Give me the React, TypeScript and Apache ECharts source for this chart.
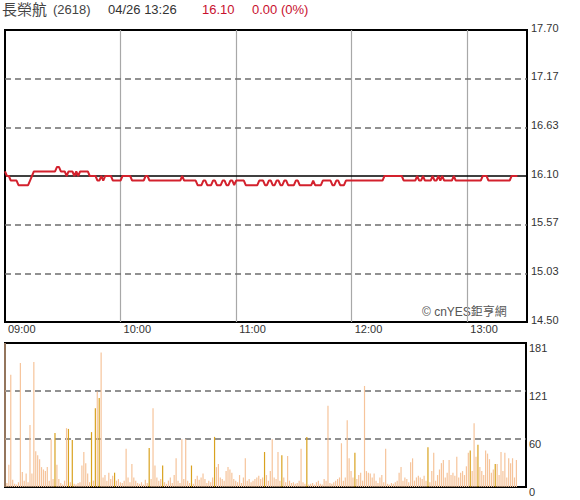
import React, { useEffect, useRef } from "react";
import * as echarts from "echarts";

// ---- data ----
const stockName = "長榮航";
const stockCode = "(2618)";
const quoteTime = "04/26 13:26";
const lastPrice = "16.10";
const change = "0.00 (0%)";
const prevClose = 16.1;
const priceMin = 14.5;
const priceMax = 17.7;
const volMax = 181;
const timeLabels = ["09:00", "10:00", "11:00", "12:00", "13:00"];
const sessionMinutes = 271;

// one value per minute from 09:00
const prices = [
  16.15, 16.1, 16.1, 16.05, 16.05, 16.05, 16.05, 16.0, 16.0, 16.0,
  16.0, 16.0, 16.0, 16.05, 16.1, 16.15, 16.15, 16.15, 16.15, 16.15,
  16.15, 16.15, 16.15, 16.15, 16.15, 16.15, 16.15, 16.2, 16.2, 16.15,
  16.15, 16.15, 16.1, 16.15, 16.15, 16.15, 16.1, 16.15, 16.1, 16.15,
  16.15, 16.15, 16.15, 16.15, 16.1, 16.1, 16.1, 16.1, 16.05, 16.05,
  16.1, 16.05, 16.1, 16.1, 16.1, 16.1, 16.05, 16.05, 16.05, 16.05,
  16.05, 16.1, 16.1, 16.1, 16.1, 16.1, 16.05, 16.05, 16.05, 16.05,
  16.05, 16.05, 16.05, 16.1, 16.1, 16.05, 16.05, 16.05, 16.05, 16.05,
  16.05, 16.05, 16.05, 16.05, 16.05, 16.05, 16.05, 16.05, 16.05, 16.05,
  16.05, 16.05, 16.1, 16.05, 16.05, 16.05, 16.05, 16.05, 16.05, 16.05,
  16.0, 16.0, 16.0, 16.05, 16.05, 16.0, 16.0, 16.0, 16.05, 16.05,
  16.0, 16.0, 16.0, 16.05, 16.05, 16.0, 16.0, 16.05, 16.05, 16.0,
  16.05, 16.05, 16.05, 16.05, 16.05, 16.0, 16.0, 16.0, 16.0, 16.0,
  16.0, 16.0, 16.05, 16.05, 16.05, 16.0, 16.0, 16.05, 16.05, 16.0,
  16.0, 16.05, 16.05, 16.0, 16.0, 16.05, 16.05, 16.0, 16.0, 16.0,
  16.0, 16.05, 16.05, 16.0, 16.0, 16.0, 16.0, 16.0, 16.0, 16.0,
  16.05, 16.0, 16.0, 16.0, 16.0, 16.05, 16.05, 16.05, 16.05, 16.05,
  16.0, 16.0, 16.05, 16.05, 16.0, 16.0, 16.0, 16.05, 16.05, 16.05,
  16.05, 16.05, 16.05, 16.05, 16.05, 16.05, 16.05, 16.05, 16.05, 16.05,
  16.05, 16.05, 16.05, 16.05, 16.05, 16.05, 16.05, 16.1, 16.1, 16.1,
  16.1, 16.1, 16.1, 16.1, 16.1, 16.1, 16.1, 16.05, 16.05, 16.05,
  16.05, 16.05, 16.05, 16.05, 16.1, 16.05, 16.05, 16.1, 16.05, 16.05,
  16.05, 16.05, 16.1, 16.05, 16.05, 16.1, 16.05, 16.1, 16.05, 16.05,
  16.05, 16.05, 16.05, 16.1, 16.05, 16.05, 16.05, 16.05, 16.05, 16.05,
  16.05, 16.05, 16.05, 16.05, 16.05, 16.05, 16.05, 16.05, 16.1, 16.1,
  16.1, 16.05, 16.05, 16.05, 16.05, 16.05, 16.05, 16.05, 16.05, 16.05,
  16.05, 16.05, 16.05, 16.1, 16.1, 16.1, 16.1,
];

const volumes = [
  181, 5, 28, 141, 9, 4, 3, 6, 156, 19,
  8, 17, 6, 78, 17, 157, 45, 40, 35, 25,
  22, 20, 25, 8, 60, 10, 68, 28, 10, 5,
  3, 8, 74, 73, 6, 59, 4, 3, 5, 6,
  27, 44, 30, 17, 6, 69, 8, 99, 120, 112,
  169, 12, 15, 8, 18, 10, 14, 18, 8, 10,
  6, 5, 8, 48, 12, 6, 29, 12, 8, 5,
  4, 6, 3, 9, 5, 49, 10, 99, 27, 12,
  8, 10, 27, 6, 4, 8, 12, 5, 15, 36,
  8, 5, 60, 10, 60, 8, 5, 27, 4, 10,
  14, 9, 12, 17, 10, 5, 8, 6, 12, 63,
  25, 29, 12, 10, 8, 20, 25, 22, 18, 10,
  8, 6, 15, 5, 12, 36, 8, 10, 6, 8,
  10, 12, 14, 10, 12, 44, 15, 8, 20, 60,
  12, 10, 44, 8, 40, 12, 6, 39, 8, 5,
  6, 4, 5, 8, 48, 6, 4, 63, 3, 4,
  5, 3, 6, 8, 4, 3, 10, 8, 102, 5,
  4, 6, 8, 10, 12, 55, 8, 12, 84, 36,
  20, 12, 43, 10, 15, 18, 8, 127, 20, 18,
  17, 12, 17, 8, 5, 12, 15, 6, 48, 4,
  3, 5, 4, 6, 8, 18, 25, 8, 12, 10,
  6, 31, 36, 8, 12, 14, 12, 10, 14, 8,
  50, 6, 20, 43, 8, 15, 22, 30, 34, 12,
  18, 34, 15, 18, 14, 38, 12, 18, 20, 15,
  26, 43, 46, 20, 80, 38, 53, 25, 20, 15,
  46, 42, 35, 18, 22, 29, 29, 15, 44, 20,
  43, 12, 36, 30, 36, 12, 34,
];

// minutes whose volume bar is drawn in the darker colour
const darkVolumeMinutes = [
  26, 33, 35, 45, 47, 49, 57, 75, 82, 97, 109, 135, 144, 157, 182, 220, 242, 246, 255,
];

const FONT = 'Arial, "Liberation Sans", "Noto Sans CJK TC", sans-serif';

export default function App() {
  const ref = useRef<HTMLDivElement>(null);

  useEffect(() => {
    if (!ref.current) return;
    const chart = echarts.init(ref.current, undefined, { renderer: "svg" });

    const priceStep = (priceMax - priceMin) / 6;
    const priceTicks = Array.from({ length: 7 }, (_, i) => priceMin + i * priceStep);
    const volTicks = [0, volMax / 3, (2 * volMax) / 3, volMax];
    const hourTicks = timeLabels.map((_, i) => i * 60);

    const priceLines = priceTicks
      .filter((_, i) => i > 0 && i < 6)
      .map((v) =>
        Math.abs(v - prevClose) < 1e-6
          ? { yAxis: v, lineStyle: { color: "#000", width: 1.6, type: "solid" } }
          : { yAxis: v, lineStyle: { color: "#6e6e6e", width: 1.6, type: [6, 4] } }
      );
    const hourLines = hourTicks
      .filter((v) => v > 0)
      .map((v) => ({ xAxis: v, lineStyle: { color: "#a8a8a8", width: 1.2, type: "solid" } }));
    const volLines = volTicks
      .filter((_, i) => i > 0 && i < 3)
      .map((v) => ({ yAxis: v, lineStyle: { color: "#6e6e6e", width: 1.6, type: [6, 4] } }));

    const darkSet = new Set(darkVolumeMinutes);

    chart.setOption({
      animation: false,
      textStyle: { fontFamily: FONT },
      grid: [
        { left: 5, top: 30, width: 522, height: 292, show: true, borderColor: "#000", borderWidth: 2, backgroundColor: "transparent" },
        { left: 5, top: 343, width: 521, height: 144, show: true, borderColor: "#000", borderWidth: 2, backgroundColor: "transparent" },
      ],
      xAxis: [
        {
          type: "value",
          gridIndex: 0,
          min: 0,
          max: sessionMinutes,
          interval: 60,
          axisLine: { show: false },
          axisTick: { show: false },
          splitLine: { show: false },
          axisLabel: {
            customValues: hourTicks,
            formatter: (v: number) => timeLabels[Math.round(v / 60)] ?? "",
            align: "left",
            padding: [0, 0, 0, 3],
            margin: 1,
            color: "#333",
            fontSize: 11,
            fontFamily: FONT,
          },
        },
        {
          type: "value",
          gridIndex: 1,
          min: 0,
          max: sessionMinutes,
          interval: 60,
          axisLine: { show: false },
          axisTick: { show: false },
          splitLine: { show: false },
          axisLabel: { show: false },
        },
      ],
      yAxis: [
        {
          type: "value",
          gridIndex: 0,
          position: "right",
          min: priceMin,
          max: priceMax,
          axisLine: { show: false },
          axisTick: { show: false, customValues: priceTicks },
          splitLine: { show: false },
          axisLabel: {
            customValues: priceTicks,
            formatter: (v: number) => v.toFixed(2),
            margin: 4,
            color: "#333",
            fontSize: 11,
            fontFamily: FONT,
            verticalAlign: "bottom",
            lineHeight: 5,
          },
        },
        {
          type: "value",
          gridIndex: 1,
          position: "right",
          min: 0,
          max: volMax,
          axisLine: { show: false },
          axisTick: { show: false, customValues: volTicks },
          splitLine: { show: false },
          axisLabel: {
            customValues: volTicks,
            formatter: (v: number) => String(Math.round(v)),
            margin: 3,
            color: "#333",
            fontSize: 11,
            fontFamily: FONT,
            verticalAlign: "top",
            lineHeight: 10,
          },
        },
      ],
      series: [
        {
          type: "line",
          xAxisIndex: 0,
          yAxisIndex: 0,
          z: 3,
          showSymbol: false,
          lineStyle: { color: "#d3212d", width: 2 },
          data: prices.map((p, i) => [i, p]),
          markLine: {
            z: 1,
            silent: true,
            symbol: "none",
            label: { show: false },
            emphasis: { disabled: true },
            data: [...hourLines, ...priceLines],
          },
        },
        {
          type: "bar",
          xAxisIndex: 1,
          yAxisIndex: 1,
          z: 3,
          barWidth: 1.2,
          data: volumes.map((v, i) => ({
            value: [i, v],
            itemStyle: { color: darkSet.has(i) ? "#d9a21f" : "#f6c49b" },
          })),
          markLine: {
            z: 1,
            silent: true,
            symbol: "none",
            label: { show: false },
            emphasis: { disabled: true },
            data: volLines,
          },
        },
      ],
      graphic: [
        { type: "text", left: 2, top: 2, style: { text: stockName, fill: "#444", font: `15px ${FONT}` } },
        { type: "text", left: 53, top: 3, style: { text: stockCode, fill: "#444", font: `13px ${FONT}` } },
        { type: "text", left: 108, top: 3, style: { text: quoteTime, fill: "#333", font: `13px ${FONT}` } },
        { type: "text", left: 202, top: 3, style: { text: lastPrice, fill: "#c8102e", font: `13px ${FONT}` } },
        { type: "text", left: 252, top: 3, style: { text: change, fill: "#c8102e", font: `13px ${FONT}` } },
        { type: "text", left: 422, top: 306, style: { text: "© cnYES鉅亨網", fill: "#555", font: `12px ${FONT}` } },
      ],
    });

    return () => chart.dispose();
  }, []);

  return (
    <div
      ref={ref}
      style={{ position: "fixed", left: 0, top: 0, width: 580, height: 500, background: "#fff" }}
    />
  );
}
